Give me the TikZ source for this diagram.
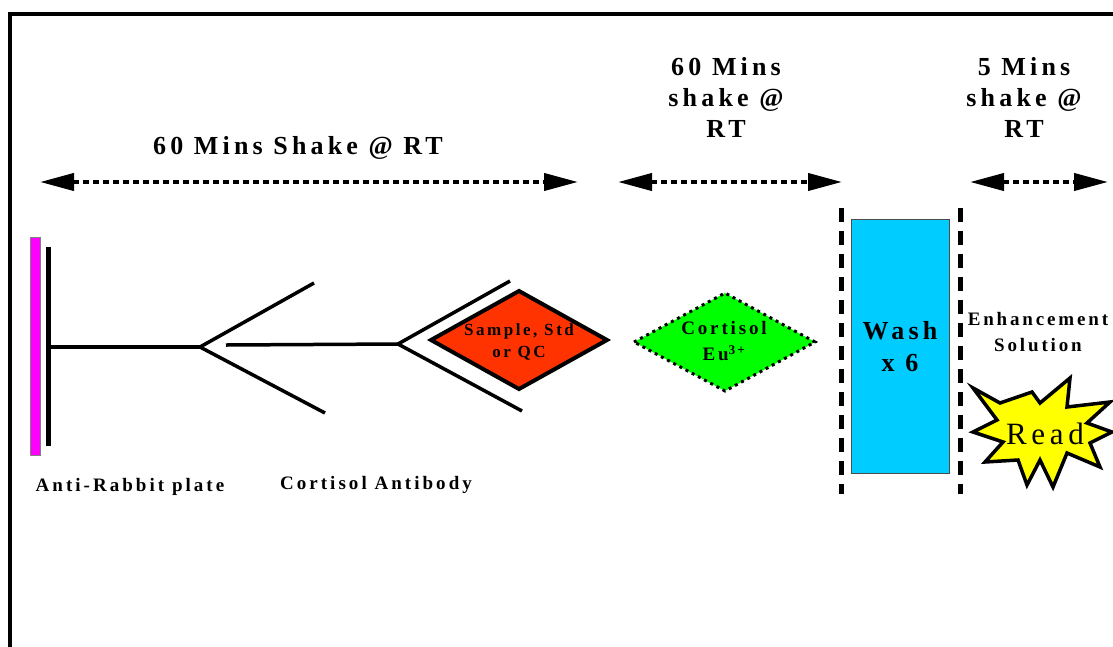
\documentclass[tikz,border=0pt]{standalone}
\usepackage{fontspec}
\setmainfont{Liberation Serif}
\newfontfamily\spaced[LetterSpace=16]{Liberation Serif}
\newfontfamily\spacedmid[LetterSpace=15]{Liberation Serif}
\usetikzlibrary{arrows.meta}
\definecolor{plate}{RGB}{255,0,255}
\definecolor{sample}{RGB}{255,51,0}
\definecolor{tracer}{RGB}{0,255,0}
\definecolor{washc}{RGB}{0,204,255}
\definecolor{burst}{RGB}{255,255,0}
\newcommand{\fs}[2]{\fontsize{#1}{#2}\selectfont}
\tikzset{
  lbl/.style={inner sep=0pt, align=center, font=\spaced\bfseries\fs{26}{31}},
  small/.style={inner sep=0pt, align=center, font=\spacedmid\bfseries\fs{19}{26}},
  timearrow/.style={line width=4pt, dash pattern=on 6pt off 4pt,
    {Triangle[length=34pt,width=17pt]}-{Triangle[length=34pt,width=17pt]}},
  arm/.style={line width=3.5pt},
  sep/.style={line width=5pt, dash pattern=on 14pt off 9pt},
}
\begin{document}
\begin{tikzpicture}[x=1pt,y=-1pt]
\useasboundingbox (0,0) rectangle (1113,646);
% outer frame
\draw[line width=4pt] (10,648) -- (10,14) -- (1115,14);

% incubation times
\node[lbl] (t1) at (298,148) {60 Mins Shake @ RT};
\node[lbl] (t2) at (726,97) {60 Mins\\shake @\\RT};
\node[lbl] (t3) at (1024,97) {5 Mins\\shake @\\RT};
\coordinate (a1l) at (40,182);  \coordinate (a1r) at (578,182);
\coordinate (a2l) at (618,182); \coordinate (a2r) at (842,182);
\coordinate (a3l) at (970,182); \coordinate (a3r) at (1108,182);
\draw[timearrow] (a1l) -- (a1r);
\draw[timearrow] (a2l) -- (a2r);
\draw[timearrow] (a3l) -- (a3r);

% plate
\node[draw=gray, line width=1pt, fill=plate, minimum width=10pt, minimum height=218pt,
  inner sep=0pt] (plate) at (35,346) {};
\coordinate (wt) at (48,247); \coordinate (wb) at (48,446);
\draw[line width=5pt] (wt) -- (wb);

% anti-rabbit antibody
\coordinate (s1) at (50,347);  \coordinate (f1) at (200,347);
\coordinate (u1) at (314,283); \coordinate (d1) at (325,413);
\draw[arm] (s1) -- (f1);
\draw[arm] (u1) -- (f1) -- (d1);

% cortisol antibody
\coordinate (s2) at (226,345); \coordinate (f2) at (398,344);
\coordinate (u2) at (510,281); \coordinate (d2) at (522,411);
\draw[arm] (s2) -- (f2);
\draw[arm] (u2) -- (f2) -- (d2);

% sample
\draw[line width=4pt, fill=sample, line join=miter]
  (431,340) -- (519,291) -- (607,340) -- (519,389) -- cycle;
\node[inner sep=0pt, align=center, font=\spacedmid\bfseries\fs{17}{22}] (smp) at (519,342)
  {Sample, Std\\or QC};

% tracer
\draw[line width=3pt, dash pattern=on 3pt off 4pt, fill=tracer]
  (634,342) -- (725,293) -- (815,342) -- (725,391) -- cycle;
\node[inner sep=0pt, align=center, font=\spacedmid\bfseries\fs{19}{26}] (trc) at (724,341)
  {Cortisol\\Eu\textsuperscript{3+}};

% wash step
\coordinate (w1t) at (841,208); \coordinate (w1b) at (841,494);
\coordinate (w2t) at (960,208); \coordinate (w2b) at (960,494);
\draw[sep] (w1t) -- (w1b);
\draw[sep] (w2t) -- (w2b);
\node[draw=black!70, line width=1pt, fill=washc, minimum width=98pt, minimum height=254pt,
  inner sep=0pt] (wash) at (900,346) {};
\node[lbl, font=\spaced\bfseries\fs{26}{32}] (washt) at (900,347) {Wash\\x 6};

% enhancement and read
\node[small] (enh) at (1038,332) {Enhancement\\Solution};
\draw[line width=3.5pt, fill=burst, line join=miter]
  (973,388) -- (1000,403) -- (1032,392) -- (1040,403) -- (1070,378) -- (1067,407)
  -- (1110,402) -- (1087,423) -- (1112,432) -- (1090,443) -- (1100,467) -- (1067,453)
  -- (1053,487) -- (1040,460) -- (1027,485) -- (1018,460) -- (985,462) -- (1003,442)
  -- (973,432) -- (997,420) -- cycle;
\node[inner sep=0pt, font=\spacedmid\fs{31}{34}] (read) at (1045,434) {Read};

% captions
\node[small, font=\spaced\bfseries\fs{19}{26}] (cap1) at (130,487) {Anti-Rabbit plate};
\node[small, font=\spaced\bfseries\fs{19}{26}] (cap2) at (376,485) {Cortisol Antibody};
\end{tikzpicture}
\end{document}
